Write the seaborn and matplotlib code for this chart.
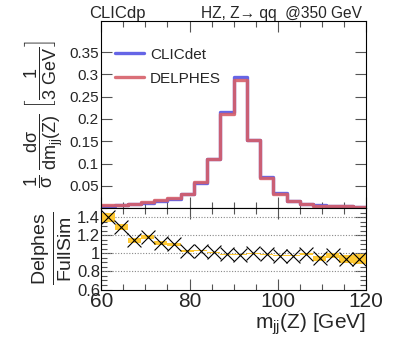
import numpy as np
import pandas as pd
import matplotlib
matplotlib.use("Agg")
import matplotlib.pyplot as plt
import seaborn as sns
from matplotlib.ticker import MultipleLocator, FuncFormatter

# ------------------------------------------------------------
# Data
# ------------------------------------------------------------

bin_edges = np.arange(60, 121, 3)
clicdet = [0.0047, 0.006, 0.0083, 0.0113, 0.0158, 0.021, 0.0306, 0.0565, 0.110, 0.2145,
           0.2945, 0.1535, 0.069, 0.033, 0.016, 0.009, 0.006, 0.005, 0.004, 0.003]
delphes = [0.0066, 0.0078, 0.0095, 0.0128, 0.0176, 0.0231, 0.0314, 0.0580, 0.1095, 0.2105,
           0.2875, 0.1520, 0.068, 0.0322, 0.0156, 0.0088, 0.0057, 0.0049, 0.0038, 0.0028]
ratio = [1.40, 1.29, 1.145, 1.18, 1.116, 1.098, 1.025, 1.03, 1.01, 0.99,
         0.985, 1.0, 0.99, 0.975, 0.975, 0.99, 0.945, 0.978, 0.938, 0.938]
ratio_err = [0.05, 0.035, 0.03, 0.025, 0.02, 0.015, 0.01, 0.006, 0.006, 0.005,
             0.005, 0.005, 0.005, 0.006, 0.008, 0.012, 0.025, 0.03, 0.04, 0.055]

centers = (bin_edges[:-1] + bin_edges[1:]) / 2
df = pd.DataFrame({"m": centers, "clicdet": clicdet, "delphes": delphes,
                   "ratio": ratio, "err": ratio_err})

# ------------------------------------------------------------
# Style
# ------------------------------------------------------------

sns.set_theme(style="ticks")
plt.rcParams["font.family"] = ["Liberation Sans", "DejaVu Sans"]
plt.rcParams["mathtext.fontset"] = "custom"
plt.rcParams["mathtext.rm"] = "Liberation Sans"
plt.rcParams["mathtext.it"] = "Liberation Sans"
plt.rcParams["mathtext.sf"] = "Liberation Sans"
plt.rcParams["mathtext.default"] = "regular"

fig = plt.figure(figsize=(4.07, 3.48), dpi=100)
ax1 = fig.add_axes([0.249, 0.402, 0.650, 0.538])
ax2 = fig.add_axes([0.249, 0.168, 0.650, 0.234], sharex=ax1)

# ------------------------------------------------------------
# Top panel: normalised distributions
# ------------------------------------------------------------

sns.histplot(data=df, x="m", weights="clicdet", binwidth=3, binrange=(60, 120),
             element="step", fill=False, color="#5454e4", linewidth=2.4, alpha=0.9,
             ax=ax1, label="CLICdet")
sns.histplot(data=df, x="m", weights="delphes", binwidth=3, binrange=(60, 120),
             element="step", fill=False, color="#d65f69", linewidth=2.4, alpha=0.9,
             ax=ax1, label="DELPHES")

ax1.set_xlim(60, 120)
ax1.set_ylim(0, 0.42)
ax1.set_yticks([0.05, 0.1, 0.15, 0.2, 0.25, 0.3, 0.35])
ax1.yaxis.set_major_formatter(FuncFormatter(lambda v, p: f"{v:g}"))
ax1.set_xlabel("")
ax1.set_ylabel(r"$\dfrac{1}{\sigma}\ \dfrac{d\sigma}{dm_{jj}(Z)}\ \left[\dfrac{1}{3\ GeV}\right]$",
               fontsize=13, labelpad=3)
ax1.tick_params(labelbottom=False)

leg = ax1.legend(loc="upper left", frameon=False, fontsize=11, handlelength=1.9,
                 handletextpad=0.4, labelspacing=0.65, bbox_to_anchor=(0.0, 0.93))

fig.text(0.22, 0.962, "CLICdp", fontsize=12, ha="left", va="center")
fig.text(0.89, 0.962, "HZ, Z\u2192 qq  @350 GeV", fontsize=11.2, ha="right", va="center")

# ------------------------------------------------------------
# Bottom panel: ratio
# ------------------------------------------------------------

ax2.bar(df["m"], 2 * df["err"], bottom=df["ratio"] - df["err"], width=3,
        color="#ffc933", edgecolor="none", zorder=2)
sns.scatterplot(data=df, x="m", y="ratio", marker="x", s=100, color="black",
                linewidth=0.8, ax=ax2, zorder=3)
for yv in [0.8, 1.0, 1.2, 1.4]:
    ax2.axhline(yv, color="#888888", linestyle=(0, (1, 1.5)), linewidth=0.8, zorder=1)

ax2.set_ylim(0.6, 1.5)
ax2.set_yticks([0.6, 0.8, 1.0, 1.2, 1.4])
ax2.yaxis.set_major_formatter(FuncFormatter(lambda v, p: f"{v:g}"))
ax2.yaxis.set_minor_locator(MultipleLocator(0.05))
ax2.set_xticks([60, 80, 100, 120])
ax2.set_ylabel(r"$\frac{Delphes}{FullSim}$", fontsize=20, labelpad=2)
ax2.set_xlabel(r"$m_{jj}$(Z) [GeV]", fontsize=15, loc="right", labelpad=0)

# ------------------------------------------------------------
# ROOT-like ticks
# ------------------------------------------------------------

for ax in (ax1, ax2):
    ax.xaxis.set_minor_locator(MultipleLocator(5))
    ax.tick_params(which="both", direction="in", top=True, right=True,
                   color="#555555", width=0.8)
    ax.tick_params(which="major", length=8)
    ax.tick_params(which="minor", length=4)
    for sp in ax.spines.values():
        sp.set_color("black")
        sp.set_linewidth(0.8)

ax1.tick_params(axis="y", labelsize=11, pad=2)
ax2.tick_params(axis="y", labelsize=12, pad=1)
ax2.tick_params(axis="x", labelsize=15, pad=2)

fig.savefig("out.png", dpi=100)
